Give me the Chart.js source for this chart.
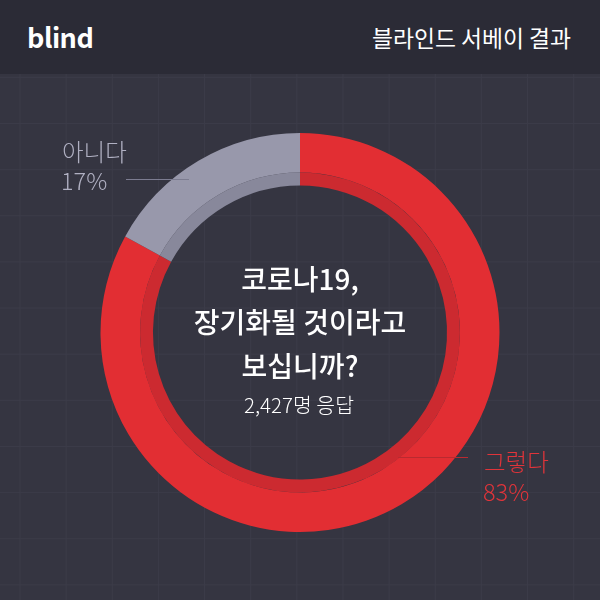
<!DOCTYPE html>
<html>
<head>
<meta charset="utf-8">
<script src="https://cdn.jsdelivr.net/npm/chart.js@4"></script>
<style>
  body { margin: 0; background: #353541; }
  #wrap {
    position: relative; width: 600px; height: 600px; overflow: hidden;
    background-color: #353541;
    background-image:
      linear-gradient(to right, #3b3b48 1px, transparent 1px),
      linear-gradient(to bottom, #3b3b48 1px, transparent 1px);
    background-size: 46.15px 46.15px;
    background-position: 19.5px 30.7px;
    font-family: "Noto Sans CJK KR", "Noto Sans", sans-serif;
  }
  #header {
    position: absolute; left: 0; top: 0; width: 600px; height: 74px;
    background: #2b2b36; color: #fff;
  }
  #logo { position: absolute; left: 27px; top: 17px; font-size: 27px; font-weight: 700; letter-spacing: -0.5px; }
  #title { position: absolute; right: 29px; top: 21px; font-size: 22.8px; font-weight: 400; }
  canvas { position: absolute; left: 0; top: 0; }
</style>
</head>
<body>
<div id="wrap">
  <div id="header"><div id="logo">blind</div><div id="title">블라인드 서베이 결과</div></div>
  <canvas id="c" width="600" height="600"></canvas>
</div>
<script>
const categories = ["그렇다", "아니다"];
const values = [83, 17];
const question = ["코로나19,", "장기화될 것이라고", "보십니까?"];
const respondents = "2,427명 응답";

const ringColors = ["#e22e33", "#9898ab"];
const shadeColors = ["#cc2a30", "#88889b"];

const labelPlugin = {
  id: "labels",
  afterDraw(chart) {
    const ctx = chart.ctx;
    const font = '"Noto Sans CJK KR", "Noto Sans", sans-serif';
    ctx.save();

    // leader lines
    ctx.lineWidth = 1;
    ctx.strokeStyle = "#7c7c90";
    ctx.beginPath(); ctx.moveTo(126, 179.5); ctx.lineTo(189, 179.5); ctx.stroke();
    ctx.strokeStyle = "#b92a30";
    ctx.beginPath(); ctx.moveTo(398, 457.5); ctx.lineTo(468, 457.5); ctx.stroke();

    // side labels
    ctx.textBaseline = "middle";
    ctx.textAlign = "left";
    ctx.font = "300 23.5px " + font;
    ctx.fillStyle = "#b0b0c2";
    ctx.fillText(categories[1], 62, 152);
    ctx.fillText(values[1] + "%", 61, 181);
    ctx.fillStyle = "#e0343a";
    ctx.fillText(categories[0], 484, 462);
    ctx.fillText(values[0] + "%", 483, 492);

    // center text
    ctx.textAlign = "center";
    ctx.fillStyle = "#ffffff";
    ctx.font = "500 28px " + font;
    question.forEach((line, i) => ctx.fillText(line, 300, 279 + i * 43.5));
    ctx.font = "300 20.5px " + font;
    ctx.fillText(respondents, 299, 405);
    ctx.restore();
  }
};

new Chart(document.getElementById("c"), {
  type: "doughnut",
  data: {
    labels: categories,
    datasets: [
      { data: values, backgroundColor: ringColors, borderWidth: 0, weight: 40 },
      { data: values, backgroundColor: shadeColors, borderWidth: 0, weight: 13 }
    ]
  },
  options: {
    responsive: false,
    animation: false,
    cutout: "73.7%",
    layout: { padding: { left: 100, right: 100, top: 133, bottom: 68 } },
    plugins: { legend: { display: false }, tooltip: { enabled: false } }
  },
  plugins: [labelPlugin]
});
</script>
</body>
</html>
